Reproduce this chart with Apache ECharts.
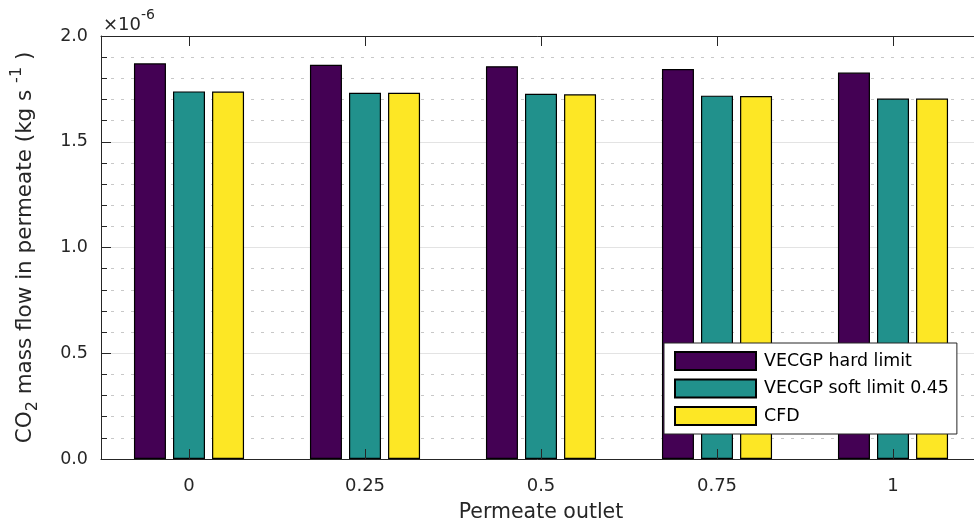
<!DOCTYPE html>
<html>
<head>
<meta charset="utf-8">
<script src="https://cdn.jsdelivr.net/npm/echarts@6/dist/echarts.min.js"></script>
<style>
html,body{margin:0;padding:0;background:#fff;}
#chart{width:974px;height:528px;}
</style>
</head>
<body>
<div id="chart"></div>
<script>
const categories = ['0', '0.25', '0.5', '0.75', '1'];
const hardLimit = [1.871, 1.864, 1.857, 1.844, 1.827];
const softLimit = [1.738, 1.732, 1.727, 1.718, 1.704];
const cfd = [1.737, 1.732, 1.724, 1.716, 1.704];
const seriesNames = ['VECGP hard limit', 'VECGP soft limit 0.45', 'CFD'];
const colors = ['#440154', '#21918c', '#fde725'];

const FONT = '"DejaVu Sans", "Liberation Sans", Arial, sans-serif';
const AXC = '#262626';

const chart = echarts.init(document.getElementById('chart'), null, {renderer: 'canvas'});

function barSeries(name, data, color) {
  return {
    name: name,
    type: 'bar',
    data: data,
    barWidth: 32,
    barGap: '22%',
    itemStyle: {color: color, borderColor: '#000', borderWidth: 1.2},
    emphasis: {disabled: true}
  };
}

chart.setOption({
  animation: false,
  textStyle: {fontFamily: FONT},
  grid: {left: 101, top: 36, width: 880, bottom: 69, containLabel: false, outerBoundsMode: 'none'},
  xAxis: [{
    type: 'category',
    data: categories,
    position: 'bottom',
    z: 10,
    name: 'Permeate outlet',
    nameLocation: 'middle',
    nameGap: 43,
    nameTextStyle: {fontSize: 20.5, color: AXC, fontFamily: FONT},
    axisLine: {lineStyle: {color: AXC, width: 1}},
    axisTick: {show: true, inside: true, alignWithLabel: true, length: 10, lineStyle: {color: AXC}},
    axisLabel: {fontSize: 18, color: AXC, margin: 18, fontFamily: FONT},
    splitLine: {show: false}
  }, {
    type: 'category',
    data: categories,
    position: 'top',
    z: 10,
    axisLine: {lineStyle: {color: AXC, width: 1}},
    axisTick: {show: true, inside: true, alignWithLabel: true, length: 10, lineStyle: {color: AXC}},
    axisLabel: {show: false},
    splitLine: {show: false}
  }],
  yAxis: {
    type: 'value',
    min: 0,
    max: 2,
    interval: 0.5,
    name: 'CO{sub|2} mass flow in permeate (kg s {sup|-1} )',
    nameLocation: 'middle',
    nameGap: 60,
    nameRotate: 90,
    nameTextStyle: {
      fontSize: 21.5, color: AXC, fontFamily: FONT,
      rich: {
        sub: {fontSize: 16, color: AXC, fontFamily: FONT, verticalAlign: 'bottom', lineHeight: 32},
        sup: {fontSize: 16, color: AXC, fontFamily: FONT, verticalAlign: 'top', lineHeight: 32}
      }
    },
    axisLine: {show: true, lineStyle: {color: AXC, width: 1}},
    axisTick: {show: true, inside: true, length: 10, lineStyle: {color: AXC}},
    minorTick: {show: true, splitNumber: 5, length: 6, lineStyle: {color: AXC}},
    axisLabel: {fontSize: 17.5, color: AXC, margin: 13, fontFamily: FONT, formatter: v => v.toFixed(1)},
    splitLine: {show: true, lineStyle: {color: '#e3e3e3', width: 1}},
    minorSplitLine: {show: true, lineStyle: {color: '#c8c8c8', width: 1, type: [3, 7]}}
  },
  legend: {
    data: seriesNames,
    orient: 'vertical',
    left: 664,
    top: 343,
    padding: [8, 8, 8, 10],
    itemWidth: 81,
    itemHeight: 18,
    itemGap: 7.5,
    borderColor: AXC,
    borderWidth: 1,
    backgroundColor: '#fff',
    icon: 'rect',
    textStyle: {fontSize: 17.4, color: '#000', fontFamily: FONT, padding: [0, 0, 0, 3]},
    selectedMode: false
  },
  graphic: [{
    type: 'text',
    left: 103,
    top: 8,
    style: {
      text: '{a|×10}{b|-6}',
      rich: {
        a: {fontSize: 18, fill: AXC, fontFamily: FONT, verticalAlign: 'bottom', lineHeight: 26},
        b: {fontSize: 14, fill: AXC, fontFamily: FONT, verticalAlign: 'top', lineHeight: 26}
      }
    }
  }],
  series: [
    barSeries(seriesNames[0], hardLimit, colors[0]),
    barSeries(seriesNames[1], softLimit, colors[1]),
    barSeries(seriesNames[2], cfd, colors[2])
  ]
});
</script>
</body>
</html>
